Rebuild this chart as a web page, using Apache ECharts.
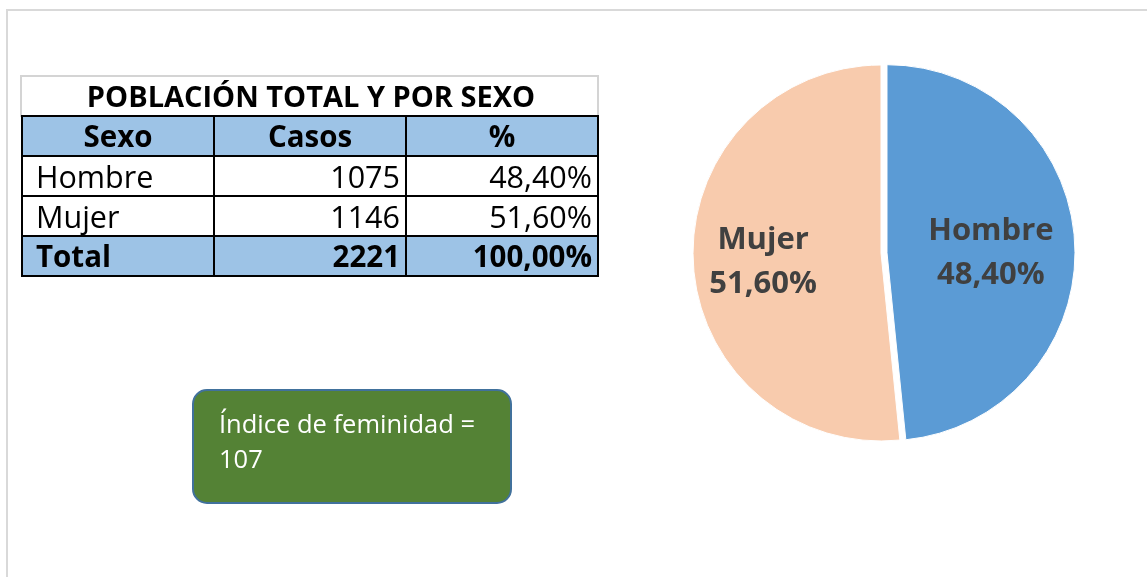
<!DOCTYPE html>
<html>
<head>
<meta charset="utf-8">
<script src="https://cdn.jsdelivr.net/npm/echarts@6/dist/echarts.min.js"></script>
<style>
  html, body { margin: 0; padding: 0; background: #fff; }
  #chart { width: 1147px; height: 577px; }
</style>
</head>
<body>
<div id="chart"></div>
<script>
// datos de la tabla y del gráfico
const tituloTabla = "POBLACIÓN TOTAL Y POR SEXO";
const encabezados = ["Sexo", "Casos", "%"];
const sexos = ["Hombre", "Mujer"];
const casos = [1075, 1146];
const porcentajes = ["48,40%", "51,60%"];
const totalEtiqueta = "Total";
const totalCasos = 2221;
const totalPorcentaje = "100,00%";
const indiceFeminidad = 107;

const sexColors = ["#5B9BD5", "#F8CBAD"];

// geometria de la tabla
const colX = [22, 214, 406, 598];
const rowY = [76, 116, 156, 196, 236, 276];
const fontReg = '30.5px "Open Sans"';
const fontBold = 'bold 29.5px "Open Sans"';

const elements = [];

// marco exterior gris
elements.push({
  type: "rect",
  shape: { x: 7, y: 10, width: 1160, height: 600 },
  style: { fill: "none", stroke: "#d9d9d9", lineWidth: 2 },
});

// fila del titulo
elements.push({
  type: "rect",
  shape: { x: 21, y: 76, width: 577, height: 40 },
  style: { fill: "#fff", stroke: "#d4d4d4", lineWidth: 2 },
});
elements.push({
  type: "text",
  style: {
    text: tituloTabla, x: (colX[0] + colX[3]) / 2 + 1, y: 99,
    font: 'bold 29px "Open Sans"', fill: "#000",
    textAlign: "center", textVerticalAlign: "middle",
  },
});

// fondos azules (encabezado y total)
[rowY[1], rowY[4]].forEach((y) => {
  elements.push({
    type: "rect",
    shape: { x: colX[0], y: y, width: colX[3] - colX[0], height: 40 },
    style: { fill: "#9DC3E6" },
  });
});

// lineas negras
for (let i = 1; i < rowY.length; i++) {
  elements.push({
    type: "line",
    shape: { x1: colX[0] - 1, y1: rowY[i], x2: colX[3] + 1, y2: rowY[i] },
    style: { stroke: "#000", lineWidth: 2 },
  });
}
colX.forEach((x) => {
  elements.push({
    type: "line",
    shape: { x1: x, y1: rowY[1], x2: x, y2: rowY[5] },
    style: { stroke: "#000", lineWidth: 2 },
  });
});

function cellText(text, col, row, bold, align) {
  let x = (colX[col] + colX[col + 1]) / 2;
  if (align === "left") x = colX[col] + 14;
  if (align === "right") x = colX[col + 1] - 6;
  return {
    type: "text",
    style: {
      text: String(text), x: x, y: (rowY[row] + rowY[row + 1]) / 2 + 3,
      font: bold ? fontBold : fontReg, fill: "#000",
      textAlign: align || "center", textVerticalAlign: "middle",
    },
  };
}

encabezados.forEach((h, c) => elements.push(cellText(h, c, 1, true)));
sexos.forEach((s, i) => {
  elements.push(cellText(s, 0, 2 + i, false, "left"));
  elements.push(cellText(casos[i], 1, 2 + i, false, "right"));
  elements.push(cellText(porcentajes[i], 2, 2 + i, false, "right"));
});
elements.push(cellText(totalEtiqueta, 0, 4, true, "left"));
elements.push(cellText(totalCasos, 1, 4, true, "right"));
elements.push(cellText(totalPorcentaje, 2, 4, true, "right"));

// cuadro verde del indice
elements.push({
  type: "rect",
  shape: { x: 193, y: 390, width: 318, height: 113, r: 14 },
  style: { fill: "#548235", stroke: "#41719C", lineWidth: 2 },
});
elements.push({
  type: "text",
  style: {
    text: "Índice de feminidad =\n" + indiceFeminidad,
    x: 219, y: 408, lineHeight: 35,
    font: '25.5px "Open Sans"', fill: "#fff",
    textAlign: "left", textVerticalAlign: "top",
  },
});

const chart = echarts.init(document.getElementById("chart"));
chart.setOption({
  backgroundColor: "#fff",
  animation: false,
  graphic: { elements: elements },
  series: [
    {
      type: "pie",
      center: [881, 253],
      radius: 188,
      startAngle: 90,
      clockwise: true,
      selectedMode: "single",
      selectedOffset: 6,
      itemStyle: { borderColor: "#fff", borderWidth: 1 },
      label: {
        position: "inside",
        fontFamily: "Open Sans",
        fontWeight: "bold",
        fontSize: 31,
        lineHeight: 44,
        color: "#404040",
        formatter: (p) => p.name + "\n" + p.percent.toFixed(2).replace(".", ",") + "%",
      },
      labelLayout: (p) => (p.dataIndex === 0 ? { dx: 7, dy: 5 } : { dx: -21, dy: 4 }),
      emphasis: { disabled: true },
      data: sexos.map((s, i) => ({
        name: s,
        value: casos[i],
        selected: i === 0,
        itemStyle: { color: sexColors[i] },
      })),
    },
  ],
});
</script>
</body>
</html>
